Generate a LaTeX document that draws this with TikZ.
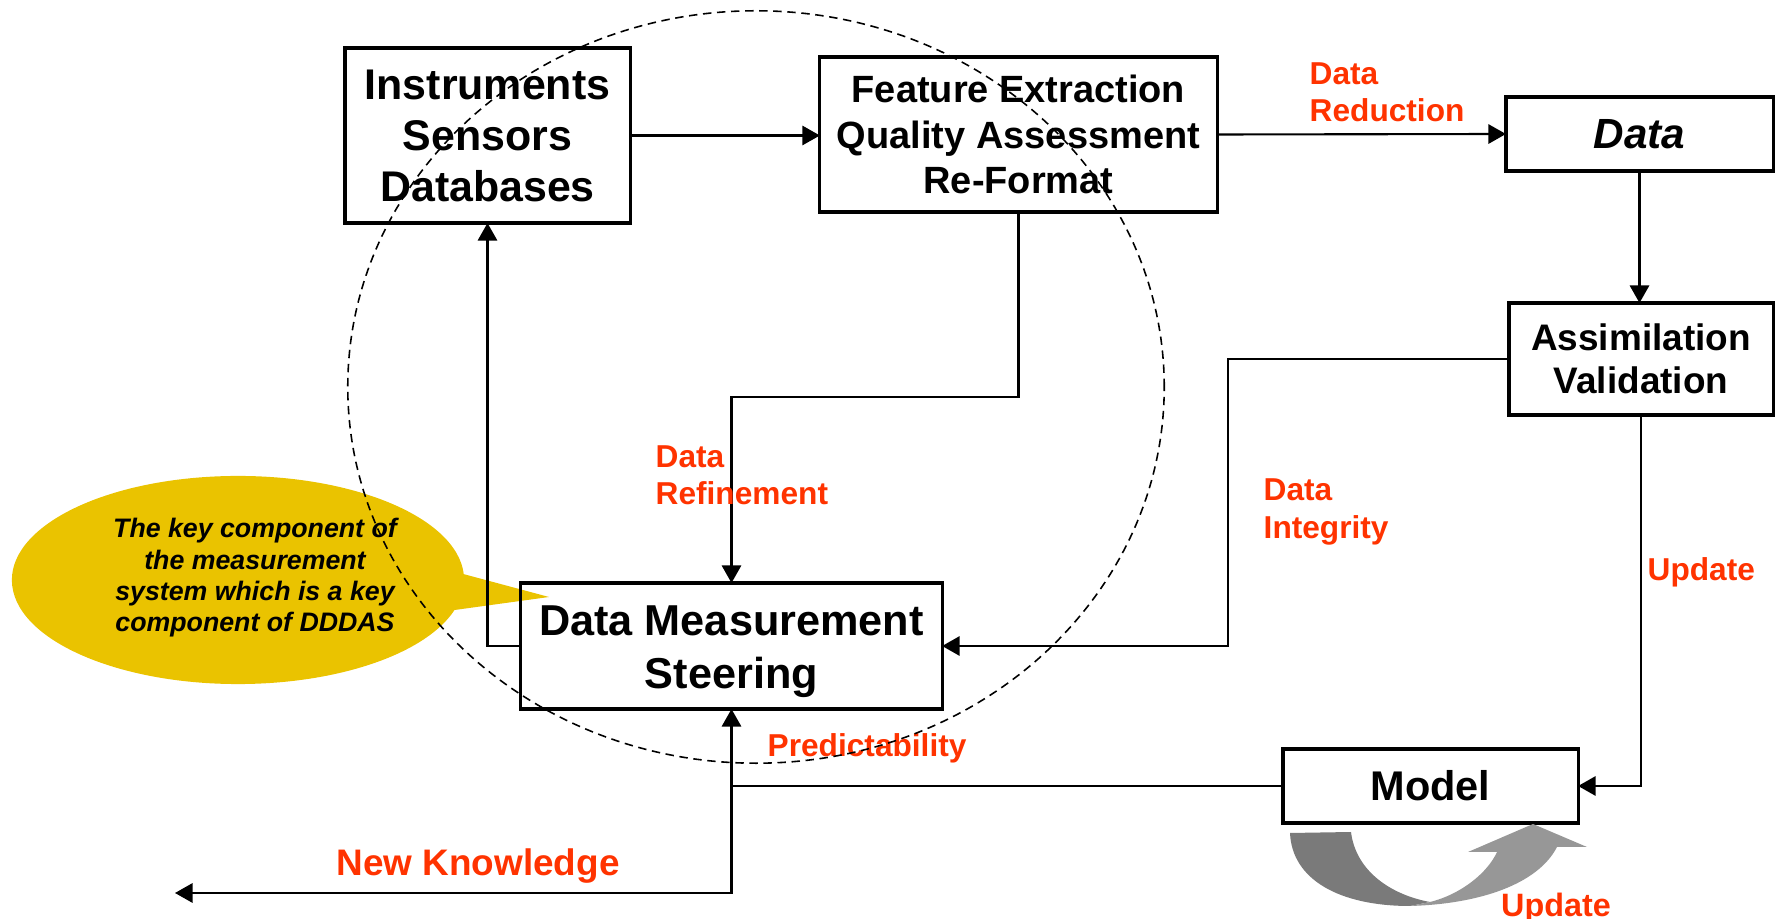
\documentclass[tikz,border=0pt]{standalone}
\usepackage{fontspec}
\setmainfont{Liberation Sans}
\usepackage{tikz}
\usetikzlibrary{shapes,arrows,arrows.meta,positioning,calc}

\definecolor{labelred}{RGB}{255,51,0}
\definecolor{noteyellow}{RGB}{234,195,0}
\definecolor{turndark}{RGB}{122,122,122}
\definecolor{turnlight}{RGB}{151,151,151}

\begin{document}
\begin{tikzpicture}[x=0.01cm,y=-0.01cm,
    box/.style={shape=rectangle,draw,line width=0.9pt,inner sep=0pt,outer sep=0pt,align=center},
    flow/.style={line width=0.6pt,-{Triangle[length=5pt,width=5.5pt]}},
    tag/.style={text=labelred,font=\bfseries\fontsize{9}{10.6}\selectfont,align=left,anchor=west,inner sep=0pt}]

  \useasboundingbox (0,0) rectangle (1775,919);

  % note
  \node[ellipse callout,fill=noteyellow,minimum width=4.52cm,minimum height=2.08cm,
    callout absolute pointer={(549,597)},callout pointer arc=20] (note) at (238,580) {};
  \node[align=center,inner sep=0pt,font=\bfseries\itshape\fontsize{7.6}{8.9}\selectfont]
    (notetext) at (255,578) {The key component of\\the measurement\\system which is a key\\component of DDDAS};

  % boxes
  \node[box,minimum width=2.85cm,minimum height=1.75cm,font=\bfseries\fontsize{12.2}{14.5}\selectfont]
    (ins) at (487.5,135.5) {Instruments\\Sensors\\Databases};
  \node[box,minimum width=3.97cm,minimum height=1.55cm,font=\bfseries\fontsize{10.8}{12.9}\selectfont]
    (feat) at (1018.5,134.5) {Feature Extraction\\Quality Assessment\\Re-Format};
  \node[box,minimum width=2.67cm,minimum height=0.74cm,font=\bfseries\itshape\fontsize{12}{14}\selectfont]
    (data) at (1639.5,134) {Data};
  \node[box,minimum width=2.64cm,minimum height=1.12cm,font=\bfseries\fontsize{10.5}{12.3}\selectfont]
    (assim) at (1641,359) {Assimilation\\Validation};
  \node[box,minimum width=4.21cm,minimum height=1.26cm] (dms) at (731.5,646) {};
  \node[inner sep=0pt,align=center,font=\bfseries\fontsize{12.3}{15}\selectfont]
    (dmstext) at (731.5,652) {Data Measurement\\Steering};
  \node[box,minimum width=2.95cm,minimum height=0.74cm,font=\bfseries\fontsize{11.8}{14}\selectfont]
    (model) at (1430.5,786) {Model};
  \coordinate (nk) at (175,893);

  % connectors
  \draw[flow] (ins.east) -- (ins.east -| feat.west);
  \draw[flow] (feat.east) -- (data.west);
  \draw[flow] (data.south) -- (data.south |- assim.north);
  \draw[flow] (assim.west) -- ++(-281,0) |- (dms.east);
  \draw[flow] (assim.south) |- (model.east);
  \draw[flow] (feat.south) -- ++(0,185) -| (dms.north);
  \draw[flow] (dms.west) -| (ins.south);
  \draw[flow] (model.west) -| (dms.south);
  \draw[flow] (dms.south |- model.west) |- (nk);

  % labels
  \node[tag] (lred) at (1309,92) {Data\\Reduction};
  \node[tag] (lref) at (655,475) {Data\\Refinement};
  \node[tag] (lint) at (1263,512) {Data\\Integrity};
  \node[tag] (lupd) at (1647,572) {Update};
  \node[tag] (lpre) at (767,748) {Predictability};
  \node[text=labelred,inner sep=0pt,font=\bfseries\fontsize{10.5}{12}\selectfont]
    (lnew) at (478,866) {New Knowledge};

  % turn arrow under the model
  \fill[turndark] (1290,833) -- (1351,832) .. controls (1356,872) and (1392,895) .. (1430,902)
    -- (1410,906) .. controls (1340,906) and (1292,880) .. (1290,833) -- cycle;
  \fill[turnlight] (1430,902) .. controls (1462,894) and (1488,872) .. (1497,852)
    -- (1468,852) -- (1533,824) -- (1587,847) -- (1557,847)
    .. controls (1538,884) and (1480,904) .. (1410,906) -- cycle;
  \node[text=labelred,inner sep=0pt,anchor=base,font=\bfseries\fontsize{9.2}{11}\selectfont]
    (lturn) at (1556,917) {Update};

  % dashed ring
  \draw[line width=0.45pt,dash pattern=on 2.4pt off 1.6pt] (756,387) ellipse [x radius=4.08cm,y radius=3.76cm];
\end{tikzpicture}
\end{document}
